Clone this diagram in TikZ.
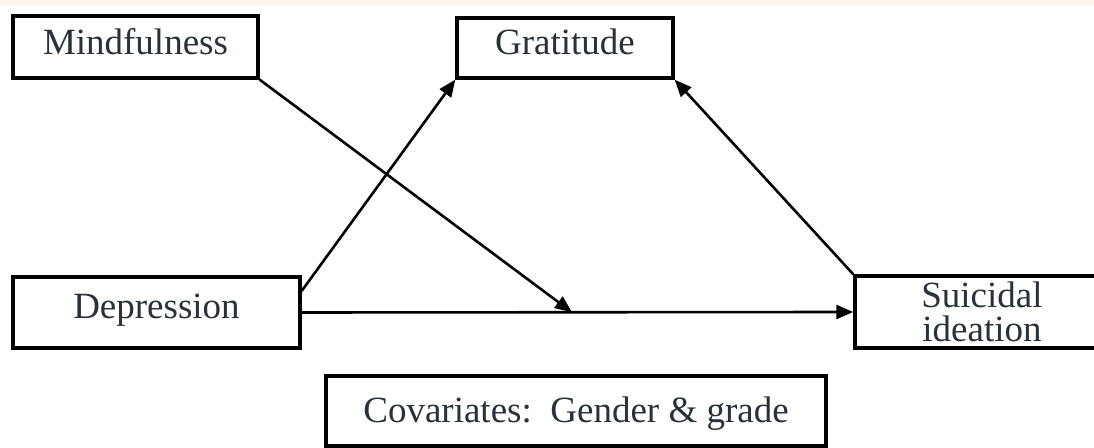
\documentclass[tikz,border=0pt]{standalone}
\usepackage{fontspec}
\setmainfont{Liberation Serif}
\usetikzlibrary{arrows.meta,calc}
\definecolor{inkgray}{HTML}{29313B}
\definecolor{paperband}{HTML}{FAF6EA}
\begin{document}
\begin{tikzpicture}[x=0.5pt,y=-0.5pt,
  varbox/.style={draw=black, line width=1.7pt, inner sep=0pt, fill=white,
    text=inkgray, font=\fontsize{18.5}{17}\selectfont, align=center},
  path/.style={line width=1.3pt, -{Triangle[length=8.5pt,width=7pt]}}]
  % canvas
  \useasboundingbox (0,0) rectangle (1094,448);
  \clip (0,0) rectangle (1094,448);
  \fill[white] (0,0) rectangle (1094,448);
  \fill[paperband] (0,0) rectangle (1094,5);

  % variables
  \node[varbox, minimum width=122.5pt, minimum height=31pt,
        text height=14pt, text depth=6pt] (mind) at (135.5,47) {Mindfulness};
  \node[varbox, minimum width=108pt, minimum height=30pt,
        text height=14pt, text depth=7pt] (grat) at (565,48) {Gratitude};
  \node[varbox, minimum width=143.5pt, minimum height=35.5pt,
        text height=13pt, text depth=7pt] (dep) at (156.5,312.5) {Depression};
  \node[varbox, minimum width=127pt, minimum height=36pt] (sui) at (982,312)
        {Suicidal\\ideation};
  \node[varbox, minimum width=250pt, minimum height=35pt,
        text height=16pt, text depth=4pt] (cov) at (576,411)
        {Covariates:\ \ Gender \& grade};

  % paths
  \coordinate (mod) at ($(dep.east)!0.49!(sui.west)$);
  \draw[path] (dep.east) -- (sui.west);
  \draw[path] ($(dep.north east)!0.21!(dep.south east)$) -- (grat.south west);
  \draw[path] (sui.north west) -- (grat.south east);
  \draw[path] (mind.south east) -- (mod);
\end{tikzpicture}
\end{document}
